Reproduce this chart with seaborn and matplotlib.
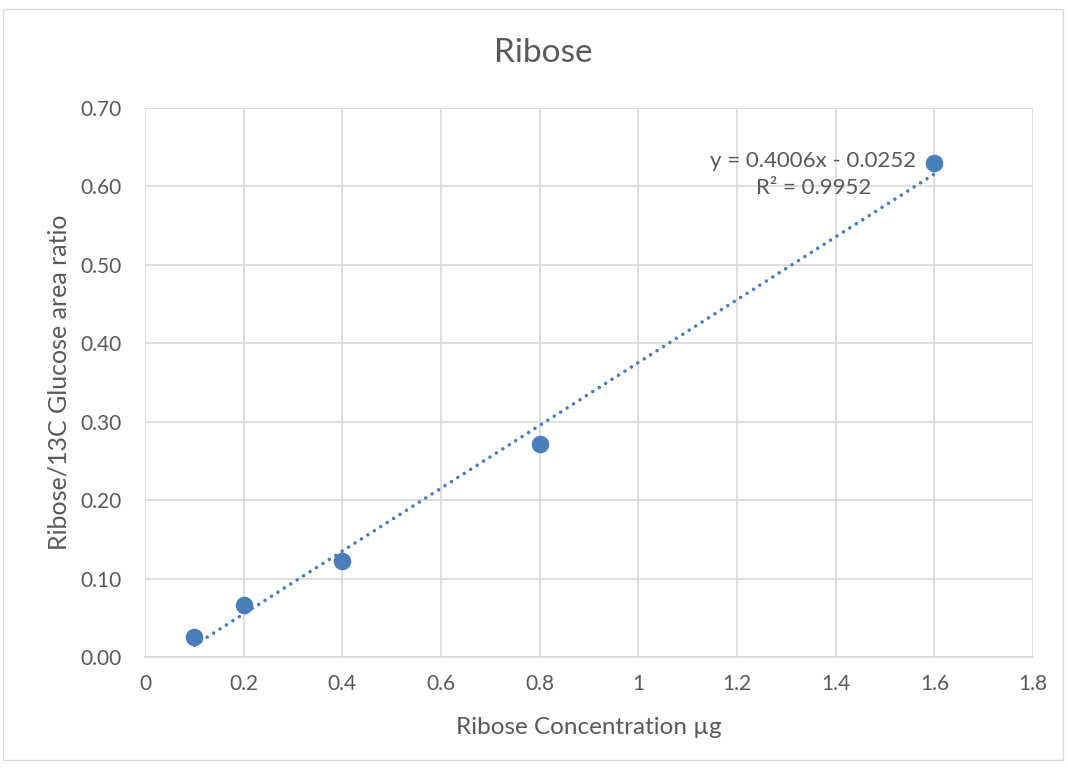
import numpy as np
import pandas as pd
import matplotlib
matplotlib.use("Agg")
import matplotlib.pyplot as plt
import seaborn as sns

# Calibration data
concentration = [0.1, 0.2, 0.4, 0.8, 1.6]
area_ratio = [0.0251, 0.0663, 0.1224, 0.2712, 0.6295]
x_ticks = [0, 0.2, 0.4, 0.6, 0.8, 1, 1.2, 1.4, 1.6, 1.8]
x_tick_labels = ["0", "0.2", "0.4", "0.6", "0.8", "1", "1.2", "1.4", "1.6", "1.8"]
y_ticks = [0.0, 0.1, 0.2, 0.3, 0.4, 0.5, 0.6, 0.7]
y_tick_labels = ["0.00", "0.10", "0.20", "0.30", "0.40", "0.50", "0.60", "0.70"]
slope, intercept = 0.4006, -0.0252
r_squared = 0.9952

df = pd.DataFrame({"conc": concentration, "ratio": area_ratio})

sns.set_theme(style="white")
plt.rcParams["font.family"] = ["Lato", "DejaVu Sans"]

text_col = "#595959"
grid_col = "#d9d9d9"
point_col = "#4a7ebb"

fig = plt.figure(figsize=(10.68, 7.69), dpi=100)
# outer chart frame
fig.patches.append(plt.Rectangle((3 / 1068, 1 - 760 / 769), 1060 / 1068, 751 / 769,
                                 transform=fig.transFigure, fill=False,
                                 edgecolor=grid_col, linewidth=1))
ax = fig.add_axes([145 / 1068, 1 - 657 / 769, 888 / 1068, 549 / 769])

# linear trendline
tx = np.array([min(concentration), max(concentration)])
ax.plot(tx, slope * tx + intercept, linestyle=(0, (0.01, 2.1)), linewidth=2.6,
        color=point_col, dash_capstyle="round", solid_capstyle="round", zorder=2)

sns.scatterplot(data=df, x="conc", y="ratio", ax=ax, s=160, color=point_col,
                edgecolor=point_col, linewidth=0, zorder=3, legend=False)

ax.set_xlim(0, 1.8)
ax.set_ylim(0, 0.7)
ax.set_xticks(x_ticks)
ax.set_xticklabels(x_tick_labels)
ax.set_yticks(y_ticks)
ax.set_yticklabels(y_tick_labels)
ax.grid(True, color=grid_col, linewidth=1.2)
ax.set_axisbelow(True)
for side in ["top", "right", "left"]:
    ax.spines[side].set_visible(False)
ax.spines["bottom"].set_color(grid_col)
ax.spines["bottom"].set_linewidth(1.2)
ax.tick_params(axis="x", colors=text_col, labelsize=15, length=0, pad=12)
ax.tick_params(axis="y", colors=text_col, labelsize=15, length=0, pad=17)

ax.set_xlabel("Ribose Concentration µg", fontsize=17.5, color=text_col, labelpad=17)
ax.set_ylabel("Ribose/13C Glucose area ratio", fontsize=18, color=text_col, labelpad=7)
fig.text(543 / 1068, 1 - 53 / 769, "Ribose", ha="center", va="center",
         fontsize=24, color=text_col)

sign = "-" if intercept < 0 else "+"
ax.text(1.355, 0.632, f"y = {slope:.4f}x {sign} {abs(intercept):.4f}", ha="center",
        va="center", fontsize=16, color=text_col)
ax.text(1.355, 0.598, f"R² = {r_squared:.4f}", ha="center", va="center",
        fontsize=16, color=text_col)

fig.savefig("out.png", dpi=100, facecolor="white")
